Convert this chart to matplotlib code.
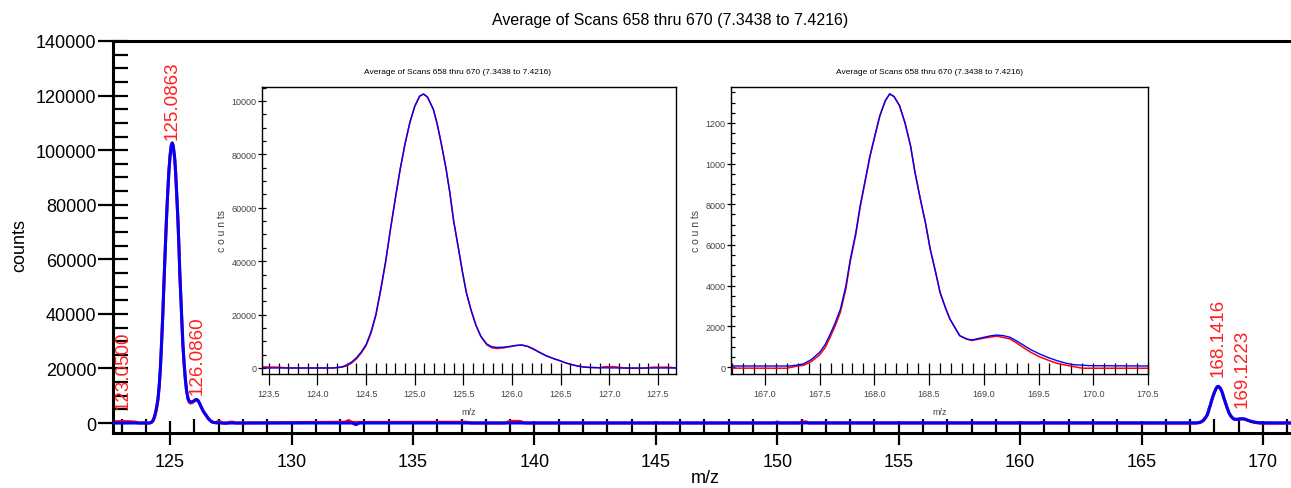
import matplotlib
matplotlib.use('Agg')
from matplotlib import pyplot as plt
from matplotlib.ticker import MultipleLocator, FixedLocator, FixedFormatter

plt.rcParams['font.family'] = ['Liberation Sans', 'DejaVu Sans']

# Spectrum data (m/z, counts)
blue_mz = [122.65, 123.0, 123.43, 123.6, 124.0, 124.16, 124.25, 124.30, 124.35, 124.40,
           124.45, 124.50, 124.55, 124.60, 124.65, 124.70, 124.75, 124.80, 124.85, 124.90,
           124.95, 125.00, 125.05, 125.09, 125.13, 125.19, 125.23, 125.27, 125.32, 125.36,
           125.40, 125.45, 125.49, 125.53, 125.58, 125.63, 125.68, 125.74, 125.79, 125.84,
           125.91, 125.98, 126.04, 126.10, 126.16, 126.22, 126.28, 126.35, 126.42, 126.49,
           126.56, 126.63, 126.70, 126.77, 126.90, 127.11, 127.67, 132.5, 132.65, 132.8,
           166.69, 167.23, 167.30, 167.35, 167.42, 167.50, 167.55, 167.59, 167.64, 167.69,
           167.74, 167.78, 167.83, 167.87, 167.92, 167.96, 168.01, 168.05, 168.10, 168.14,
           168.18, 168.23, 168.28, 168.33, 168.37, 168.42, 168.47, 168.51, 168.56, 168.60,
           168.65, 168.69, 168.74, 168.78, 168.84, 168.89, 168.95, 169.00, 169.06, 169.12,
           169.18, 169.24, 169.30, 169.36, 169.43, 169.51, 169.59, 169.67, 169.75, 169.82,
           169.97, 170.50, 171.15]
blue_counts = [0, 0, 0, 0, 0, 0, 400, 1100, 2200, 3800,
               6000, 8800, 13500, 20000, 29500, 39800, 52000, 63500, 74500, 84000,
               92000, 98000, 101800, 102600, 101500, 97000, 91500, 84500, 75000, 65800,
               55000, 44600, 36000, 28300, 21500, 15900, 11800, 9000, 8000, 7700,
               7800, 8100, 8450, 8600, 8100, 7100, 5900, 4600, 3600, 2750,
               1800, 1100, 550, 250, 80, 0, 0, 0, -600, 0,
               50, 50, 100, 150, 350, 720, 1100, 1540, 2150, 2850,
               4000, 5300, 6600, 7930, 9300, 10390, 11500, 12360, 13100, 13430,
               13300, 12850, 12000, 10890, 9600, 8260, 7000, 5800, 4650, 3670,
               2900, 2360, 1900, 1540, 1380, 1330, 1400, 1460, 1530, 1570,
               1540, 1460, 1280, 1080, 850, 640, 460, 310, 190, 115,
               65, 50, 50]

red_mz = [122.65, 123.3, 123.6, 123.7, 124.16, 124.25, 124.30, 124.35, 124.40, 124.45,
          124.50, 124.55, 124.60, 124.65, 124.70, 124.75, 124.80, 124.85, 124.90, 124.95,
          125.00, 125.05, 125.09, 125.13, 125.19, 125.23, 125.27, 125.32, 125.36, 125.40,
          125.45, 125.49, 125.53, 125.58, 125.63, 125.68, 125.74, 125.79, 125.84, 125.91,
          125.98, 126.04, 126.10, 126.16, 126.22, 126.28, 126.35, 126.42, 126.49, 126.56,
          126.63, 126.70, 126.77, 126.90, 126.95, 127.05, 127.15, 127.2, 127.35, 127.45,
          127.6, 127.7, 132.2, 132.35, 132.5, 136.8, 137.2, 137.4, 138.8, 139.0,
          139.4, 139.6, 149.9, 150.0, 150.1, 150.9, 151.0, 151.2, 151.3, 160.8,
          160.9, 161.0, 166.69, 167.2, 167.30, 167.35, 167.42, 167.50, 167.55, 167.59,
          167.64, 167.69, 167.74, 167.78, 167.83, 167.87, 167.92, 167.96, 168.01, 168.05,
          168.10, 168.14, 168.18, 168.23, 168.28, 168.33, 168.37, 168.42, 168.47, 168.51,
          168.56, 168.60, 168.65, 168.69, 168.74, 168.78, 168.84, 168.89, 169.00, 169.12,
          169.24, 169.30, 169.36, 169.43, 169.51, 169.59, 169.67, 169.75, 169.82, 169.90,
          170.50, 171.15]
red_counts = [500, 500, 300, 0, 0, 300, 800, 1800, 3400, 5600,
              8400, 13000, 19600, 29000, 39500, 51800, 63300, 74300, 83900, 92000,
              98000, 101800, 102600, 101500, 97000, 91500, 84500, 75000, 65800, 55000,
              44600, 36000, 28300, 21500, 15900, 11800, 8700, 7600, 7300, 7500,
              8000, 8400, 8600, 8100, 7100, 5900, 4600, 3600, 2750, 1800,
              1100, 550, 250, 80, 500, 500, 0, -100, -100, 300,
              300, 0, 300, 900, 200, 300, 300, 0, 0, 600,
              600, 0, 0, 400, 0, 0, 400, 400, 0, 0,
              300, 0, -60, -60, 50, 80, 250, 600, 950, 1400,
              2000, 2700, 3850, 5200, 6500, 7850, 9250, 10350, 11480, 12350,
              13100, 13430, 13300, 12850, 12000, 10890, 9600, 8260, 7000, 5800,
              4650, 3670, 2900, 2360, 1900, 1540, 1380, 1300, 1420, 1520,
              1380, 1180, 960, 720, 500, 330, 180, 90, 20, -60,
              -60, -60]

peak_labels = ['123.0500', '125.0863', '126.0860', '168.1416', '169.1223']
peak_label_mz = [123.05, 125.08, 126.10, 168.14, 169.12]
peak_label_y = [5100, 104000, 10600, 17200, 5900]

inset1_yticks = [0, 20000, 40000, 60000, 80000, 100000]
inset1_ylabels = ['0', '20000', '40000', '60000', '80000', '10000']
inset2_yticks = [0, 2000, 4000, 6000, 8000, 10000, 12000]
inset2_ylabels = ['0', '2000', '4000', '6000', '8000', '1000', '1200']

title = 'Average of Scans 658 thru 670 (7.3438 to 7.4216)'

fig = plt.figure(figsize=(12.91, 4.89), dpi=100)
W, H = 1291.0, 489.0

def px_axes(left, top, right, bottom):
    return fig.add_axes([left / W, 1 - bottom / H, (right - left) / W, (bottom - top) / H])

# main chart
ax = px_axes(113, 42, 1291, 434)
ax.plot(red_mz, red_counts, color='#ff0000', lw=2.2, zorder=2)
ax.plot(blue_mz, blue_counts, color='#0000ff', lw=2.2, zorder=3)
ax.set_xlim(122.65, 171.15)
ax.set_ylim(-3660, 140000)
for s in ['left', 'top', 'bottom']:
    ax.spines[s].set_linewidth(2.2)
ax.spines['right'].set_visible(False)
ax.xaxis.set_major_locator(MultipleLocator(5))
ax.xaxis.set_minor_locator(MultipleLocator(1))
ax.yaxis.set_major_locator(MultipleLocator(20000))
ax.yaxis.set_minor_locator(MultipleLocator(5000))
ax.tick_params(axis='x', which='major', direction='inout', length=17, width=1.6, labelsize=13, pad=6)
ax.tick_params(axis='x', which='minor', direction='in', length=10, width=1.6)
ax.tick_params(axis='y', which='major', direction='inout', length=22, width=1.6, labelsize=13, pad=1)
ax.tick_params(axis='y', which='minor', direction='in', length=11, width=1.6)
fig.text(705 / W, 1 - 479 / H, 'm/z', ha='center', va='center', fontsize=13)
fig.text(20 / W, 1 - 245 / H, 'counts', rotation=90, ha='center', va='center', fontsize=13)
fig.text(670 / W, 1 - 20 / H, title, ha='center', va='center', fontsize=11.5)

for lab, x, y in zip(peak_labels, peak_label_mz, peak_label_y):
    ax.text(x, y, lab, rotation=90, ha='center', va='bottom', color='#ff2020', fontsize=13.5, zorder=4)

narrow = ['Liberation Sans Narrow', 'Liberation Sans', 'DejaVu Sans']

def draw_inset(axi, xlim, ylim, yticks, ylabels, title_x):
    axi.plot(red_mz, red_counts, color='#ff0000', lw=1.1)
    axi.plot(blue_mz, blue_counts, color='#0000ff', lw=1.0)
    axi.set_xlim(*xlim)
    axi.set_ylim(*ylim)
    for s in axi.spines.values():
        s.set_linewidth(1.0)
    axi.xaxis.set_major_locator(MultipleLocator(0.5))
    axi.xaxis.set_minor_locator(MultipleLocator(0.1))
    axi.xaxis.set_major_formatter(plt.FuncFormatter(lambda v, p: '%.1f' % v))
    axi.yaxis.set_major_locator(FixedLocator(yticks))
    axi.yaxis.set_major_formatter(FixedFormatter(ylabels))
    axi.yaxis.set_minor_locator(MultipleLocator(yticks[1] / 4))
    axi.tick_params(axis='x', which='major', direction='inout', length=16, width=0.9, labelsize=6.5, pad=3, labelcolor='#444444')
    axi.tick_params(axis='x', which='minor', direction='in', length=8, width=0.9)
    axi.tick_params(axis='y', which='major', direction='inout', length=6, width=0.9, labelsize=6.5, pad=1, labelcolor='#444444')
    axi.tick_params(axis='y', which='minor', direction='in', length=3, width=0.9)
    for lab in axi.get_xticklabels() + axi.get_yticklabels():
        lab.set_family(narrow)
    axi.set_xlabel('m/z', fontsize=6.5, labelpad=6, color='#444444', family=narrow)
    axi.set_ylabel('c o u n ts', fontsize=7.5, labelpad=3, color='#444444', family=narrow)
    fig.text(title_x / W, 1 - 72 / H, title, ha='center', va='center', fontsize=6, family=narrow)

ins1 = px_axes(262, 88, 676, 375)
draw_inset(ins1, (123.43, 127.685), (-2250, 105240), inset1_yticks, inset1_ylabels, 457)

ins2 = px_axes(731, 88, 1148, 375)
draw_inset(ins2, (166.69, 170.5), (-344, 13770), inset2_yticks, inset2_ylabels, 930)

fig.savefig('out.png', dpi=100)
